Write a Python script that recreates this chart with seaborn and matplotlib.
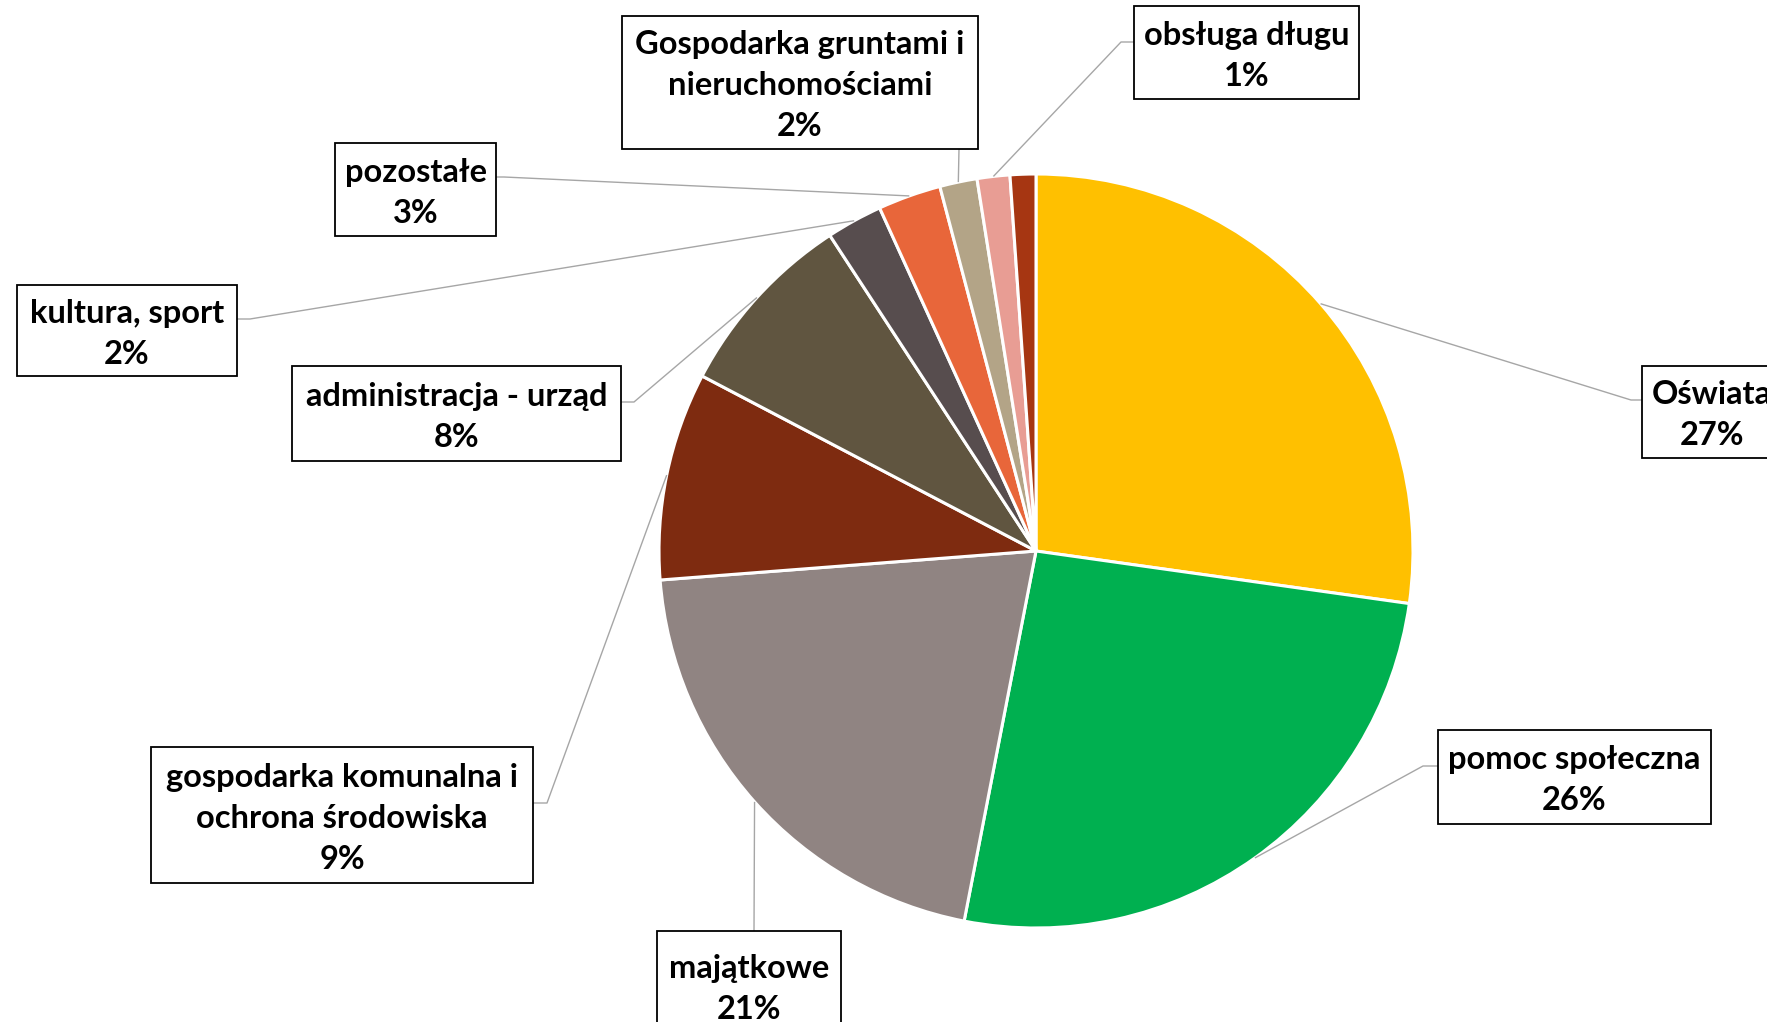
import numpy as np
import matplotlib
matplotlib.use("Agg")
import matplotlib.pyplot as plt
from matplotlib.patches import Rectangle
import seaborn as sns

# ---------------- data ----------------
categories = ["Oświata", "pomoc społeczna", "majątkowe",
              "gospodarka komunalna i\nochrona środowiska",
              "administracja - urząd", "kultura, sport", "pozostałe",
              "Gospodarka gruntami i\nnieruchomościami", "obsługa długu", ""]
shares = [27.2, 25.8, 20.7, 8.9, 8.1, 2.4, 2.7, 1.6, 1.4, 1.1]
pct_labels = ["27%", "26%", "21%", "9%", "8%", "2%", "3%", "2%", "1%", ""]
colors = ["#FFC000", "#00B050", "#908482", "#7E2B10", "#605540",
          "#574D4E", "#E8663A", "#B3A487", "#E89D94", "#A63612"]

# ---------------- layout (pixel coords, y down) ----------------
W, H = 1767, 1022
CX, CY, R = 1036, 551, 377
boxes = [(1642, 366, 1782, 458), (1438, 730, 1711, 824), (657, 931, 841, 1040),
         (151, 747, 533, 883), (292, 366, 621, 461), (17, 285, 237, 376),
         (335, 143, 496, 236), (622, 16, 978, 149), (1134, 6, 1359, 99), None]
paths = [[(1631, 400), (1642, 400)], [(1423, 766), (1438, 766)], [(754, 931)],
         [(547, 803), (533, 803)], [(634, 402), (621, 402)], [(250, 319), (237, 319)],
         [(504, 177), (496, 177)], [(959, 149)], [(1121, 42), (1134, 42)], None]


def P(x, y):
    return x, H - y


sns.set_theme(style="white")
plt.rcParams['font.family'] = ['Lato', 'DejaVu Sans']

fig = plt.figure(figsize=(W / 100, H / 100), dpi=100)
ax = fig.add_axes([0, 0, 1, 1])

wedges, _ = ax.pie(shares, colors=colors, startangle=90, counterclock=False,
                   center=P(CX, CY), radius=R,
                   wedgeprops=dict(edgecolor="white", linewidth=2.2))
ax.set_xlim(0, W)
ax.set_ylim(0, H)
ax.set_aspect("equal")
ax.axis("off")

for w, name, pct, box, path in zip(wedges, categories, pct_labels, boxes, paths):
    if box is None:
        continue
    mid = np.deg2rad((w.theta1 + w.theta2) / 2)
    cx, cy = w.center
    sx, sy = cx + w.r * np.cos(mid), cy + w.r * np.sin(mid)
    pts = [(sx, sy)] + [P(*p) for p in path]
    ax.plot([p[0] for p in pts], [p[1] for p in pts], color="#A6A6A6",
            lw=1.0, solid_capstyle="butt", zorder=3)
    x0, y0, x1, y1 = box
    ax.add_patch(Rectangle(P(x0, y1), x1 - x0, y1 - y0, facecolor="white",
                           edgecolor="black", lw=1.3, zorder=4, clip_on=False))
    tx, ty = P((x0 + x1) / 2, (y0 + y1) / 2 + 3)
    ax.text(tx, ty, f"{name}\n{pct}", ha="center", va="center", fontsize=23.5,
            fontweight="bold", color="black", linespacing=1.5, zorder=5)

fig.savefig("out.png", dpi=100, facecolor="white")
